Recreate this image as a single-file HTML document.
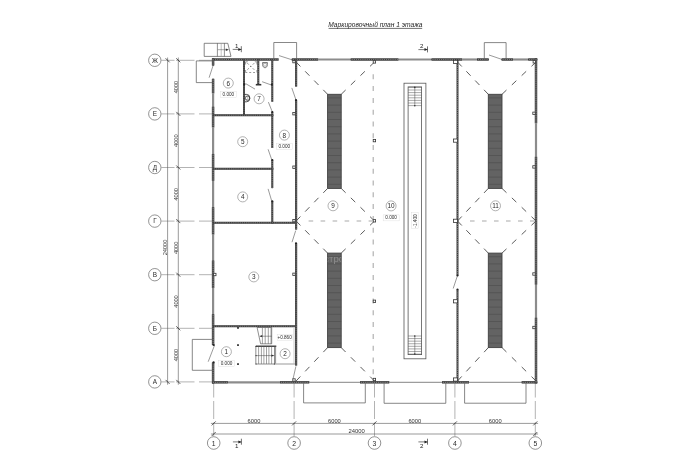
<!DOCTYPE html>
<html><head><meta charset="utf-8"><style>
html,body{margin:0;padding:0;background:#fff;}
svg{display:block;filter:grayscale(100%);}
text{font-family:"Liberation Sans",sans-serif;}
</style></head><body>
<svg width="700" height="474" viewBox="0 0 700 474">
<rect width="700" height="474" fill="#fff"/>
<g transform="matrix(1,0,0,1.00001,0,0)">
<text x="375.4" y="27.2" font-size="6.65" text-anchor="middle" fill="#1e1e1e" font-style="italic">Маркировочный план 1 этажа</text>
<line x1="328.6" y1="28.4" x2="422.2" y2="28.4" stroke="#333" stroke-width="0.7"/>
<circle cx="154.8" cy="60.3" r="6.2" stroke="#666" stroke-width="0.7" fill="white"/>
<text x="154.9" y="62.599999999999994" font-size="6.4" text-anchor="middle" fill="#2a2a2a" >Ж</text>
<line x1="213" y1="60.3" x2="160.8" y2="60.3" stroke="#aaa" stroke-width="0.9" stroke-dasharray="14 4.5 18.5 1.5 20"/>
<circle cx="154.8" cy="113.9" r="6.2" stroke="#666" stroke-width="0.7" fill="white"/>
<text x="154.9" y="116.2" font-size="6.4" text-anchor="middle" fill="#2a2a2a" >Е</text>
<line x1="213" y1="113.9" x2="160.8" y2="113.9" stroke="#aaa" stroke-width="0.9" stroke-dasharray="14 4.5 18.5 1.5 20"/>
<circle cx="154.8" cy="167.5" r="6.2" stroke="#666" stroke-width="0.7" fill="white"/>
<text x="154.9" y="169.8" font-size="6.4" text-anchor="middle" fill="#2a2a2a" >Д</text>
<line x1="213" y1="167.5" x2="160.8" y2="167.5" stroke="#aaa" stroke-width="0.9" stroke-dasharray="14 4.5 18.5 1.5 20"/>
<circle cx="154.8" cy="221.1" r="6.2" stroke="#666" stroke-width="0.7" fill="white"/>
<text x="154.9" y="223.4" font-size="6.4" text-anchor="middle" fill="#2a2a2a" >Г</text>
<line x1="213" y1="221.1" x2="160.8" y2="221.1" stroke="#aaa" stroke-width="0.9" stroke-dasharray="14 4.5 18.5 1.5 20"/>
<circle cx="154.8" cy="274.7" r="6.2" stroke="#666" stroke-width="0.7" fill="white"/>
<text x="154.9" y="277.0" font-size="6.4" text-anchor="middle" fill="#2a2a2a" >В</text>
<line x1="213" y1="274.7" x2="160.8" y2="274.7" stroke="#aaa" stroke-width="0.9" stroke-dasharray="14 4.5 18.5 1.5 20"/>
<circle cx="154.8" cy="328.3" r="6.2" stroke="#666" stroke-width="0.7" fill="white"/>
<text x="154.9" y="330.6" font-size="6.4" text-anchor="middle" fill="#2a2a2a" >Б</text>
<line x1="213" y1="328.3" x2="160.8" y2="328.3" stroke="#aaa" stroke-width="0.9" stroke-dasharray="14 4.5 18.5 1.5 20"/>
<circle cx="154.8" cy="381.9" r="6.2" stroke="#666" stroke-width="0.7" fill="white"/>
<text x="154.9" y="384.2" font-size="6.4" text-anchor="middle" fill="#2a2a2a" >А</text>
<line x1="213" y1="381.9" x2="160.8" y2="381.9" stroke="#aaa" stroke-width="0.9" stroke-dasharray="14 4.5 18.5 1.5 20"/>
<line x1="167.6" y1="57.5" x2="167.6" y2="384.7" stroke="#555" stroke-width="0.6"/>
<line x1="178.3" y1="57.5" x2="178.3" y2="384.7" stroke="#555" stroke-width="0.6"/>
<line x1="176.3" y1="58.3" x2="180.3" y2="62.3" stroke="#333" stroke-width="0.8"/>
<line x1="176.3" y1="111.9" x2="180.3" y2="115.9" stroke="#333" stroke-width="0.8"/>
<line x1="176.3" y1="165.5" x2="180.3" y2="169.5" stroke="#333" stroke-width="0.8"/>
<line x1="176.3" y1="219.1" x2="180.3" y2="223.1" stroke="#333" stroke-width="0.8"/>
<line x1="176.3" y1="272.7" x2="180.3" y2="276.7" stroke="#333" stroke-width="0.8"/>
<line x1="176.3" y1="326.3" x2="180.3" y2="330.3" stroke="#333" stroke-width="0.8"/>
<line x1="176.3" y1="379.9" x2="180.3" y2="383.9" stroke="#333" stroke-width="0.8"/>
<line x1="165.6" y1="58.3" x2="169.6" y2="62.3" stroke="#333" stroke-width="0.8"/>
<line x1="165.6" y1="379.9" x2="169.6" y2="383.9" stroke="#333" stroke-width="0.8"/>
<text x="0" y="0" font-size="5.6" text-anchor="middle" fill="#333" transform="translate(177.6,87.1) rotate(-90) scale(1,1.001)">4000</text>
<text x="0" y="0" font-size="5.6" text-anchor="middle" fill="#333" transform="translate(177.6,140.7) rotate(-90) scale(1,1.001)">4000</text>
<text x="0" y="0" font-size="5.6" text-anchor="middle" fill="#333" transform="translate(177.6,194.3) rotate(-90) scale(1,1.001)">4000</text>
<text x="0" y="0" font-size="5.6" text-anchor="middle" fill="#333" transform="translate(177.6,247.89999999999998) rotate(-90) scale(1,1.001)">4000</text>
<text x="0" y="0" font-size="5.6" text-anchor="middle" fill="#333" transform="translate(177.6,301.5) rotate(-90) scale(1,1.001)">4000</text>
<text x="0" y="0" font-size="5.6" text-anchor="middle" fill="#333" transform="translate(177.6,355.1) rotate(-90) scale(1,1.001)">4000</text>
<text x="0" y="0" font-size="5.65" text-anchor="middle" fill="#333" transform="translate(167.1,247.5) rotate(-90) scale(1,1.001)">24000</text>
<circle cx="213.7" cy="443.0" r="6.3" stroke="#666" stroke-width="0.7" fill="white"/>
<text x="213.7" y="445.6" font-size="6.8" text-anchor="middle" fill="#2a2a2a" >1</text>
<line x1="213.7" y1="383.5" x2="213.7" y2="436.7" stroke="#aaa" stroke-width="0.9" stroke-dasharray="14 3.5 18 3.6 20"/>
<circle cx="294.1" cy="443.0" r="6.3" stroke="#666" stroke-width="0.7" fill="white"/>
<text x="294.1" y="445.6" font-size="6.8" text-anchor="middle" fill="#2a2a2a" >2</text>
<line x1="294.1" y1="383.5" x2="294.1" y2="436.7" stroke="#aaa" stroke-width="0.9" stroke-dasharray="14 3.5 18 3.6 20"/>
<circle cx="374.5" cy="443.0" r="6.3" stroke="#666" stroke-width="0.7" fill="white"/>
<text x="374.5" y="445.6" font-size="6.8" text-anchor="middle" fill="#2a2a2a" >3</text>
<line x1="374.5" y1="383.5" x2="374.5" y2="436.7" stroke="#aaa" stroke-width="0.9" stroke-dasharray="14 3.5 18 3.6 20"/>
<circle cx="454.9" cy="443.0" r="6.3" stroke="#666" stroke-width="0.7" fill="white"/>
<text x="454.9" y="445.6" font-size="6.8" text-anchor="middle" fill="#2a2a2a" >4</text>
<line x1="454.9" y1="383.5" x2="454.9" y2="436.7" stroke="#aaa" stroke-width="0.9" stroke-dasharray="14 3.5 18 3.6 20"/>
<circle cx="535.3" cy="443.0" r="6.3" stroke="#666" stroke-width="0.7" fill="white"/>
<text x="535.3" y="445.6" font-size="6.8" text-anchor="middle" fill="#2a2a2a" >5</text>
<line x1="535.3" y1="383.5" x2="535.3" y2="436.7" stroke="#aaa" stroke-width="0.9" stroke-dasharray="14 3.5 18 3.6 20"/>
<line x1="210.9" y1="423.4" x2="538.1" y2="423.4" stroke="#555" stroke-width="0.6"/>
<line x1="210.9" y1="434.0" x2="538.1" y2="434.0" stroke="#555" stroke-width="0.6"/>
<line x1="211.7" y1="425.4" x2="215.7" y2="421.4" stroke="#333" stroke-width="0.8"/>
<line x1="292.1" y1="425.4" x2="296.1" y2="421.4" stroke="#333" stroke-width="0.8"/>
<line x1="372.5" y1="425.4" x2="376.5" y2="421.4" stroke="#333" stroke-width="0.8"/>
<line x1="452.9" y1="425.4" x2="456.9" y2="421.4" stroke="#333" stroke-width="0.8"/>
<line x1="533.3" y1="425.4" x2="537.3" y2="421.4" stroke="#333" stroke-width="0.8"/>
<line x1="211.7" y1="436.0" x2="215.7" y2="432.0" stroke="#333" stroke-width="0.8"/>
<line x1="533.3" y1="436.0" x2="537.3" y2="432.0" stroke="#333" stroke-width="0.8"/>
<text x="0" y="0" font-size="5.75" text-anchor="middle" fill="#333" transform="translate(254.0,422.75) scale(1,1.001)">6000</text>
<text x="0" y="0" font-size="5.75" text-anchor="middle" fill="#333" transform="translate(334.40000000000003,422.75) scale(1,1.001)">6000</text>
<text x="0" y="0" font-size="5.75" text-anchor="middle" fill="#333" transform="translate(414.8,422.75) scale(1,1.001)">6000</text>
<text x="0" y="0" font-size="5.75" text-anchor="middle" fill="#333" transform="translate(495.2,422.75) scale(1,1.001)">6000</text>
<text x="0" y="0" font-size="5.9" text-anchor="middle" fill="#333" transform="translate(356.7,433.3) scale(1,1.001)">24000</text>
<line x1="232.7" y1="49.4" x2="241.3" y2="49.4" stroke="#444" stroke-width="0.7"/>
<line x1="241.3" y1="46.199999999999996" x2="241.3" y2="52.199999999999996" stroke="#333" stroke-width="0.7"/>
<path d="M238.3,47.9 L241.3,49.4 L238.3,50.9 Z" fill="#222"/>
<text x="236.8" y="47.6" font-size="6.2" text-anchor="middle" fill="#222" >1</text>
<line x1="418.4" y1="49.6" x2="427.5" y2="49.6" stroke="#444" stroke-width="0.7"/>
<line x1="427.5" y1="46.4" x2="427.5" y2="52.4" stroke="#333" stroke-width="0.7"/>
<path d="M424.5,48.1 L427.5,49.6 L424.5,51.1 Z" fill="#222"/>
<text x="421.8" y="47.6" font-size="6.2" text-anchor="middle" fill="#222" >2</text>
<line x1="232.9" y1="441.9" x2="241.4" y2="441.9" stroke="#444" stroke-width="0.7"/>
<line x1="241.4" y1="438.7" x2="241.4" y2="444.7" stroke="#333" stroke-width="0.7"/>
<path d="M238.4,440.4 L241.4,441.9 L238.4,443.4 Z" fill="#222"/>
<text x="236.7" y="447.6" font-size="6.2" text-anchor="middle" fill="#222" >1</text>
<line x1="418.4" y1="441.9" x2="427.5" y2="441.9" stroke="#444" stroke-width="0.7"/>
<line x1="427.5" y1="438.7" x2="427.5" y2="444.7" stroke="#333" stroke-width="0.7"/>
<path d="M424.5,440.4 L427.5,441.9 L424.5,443.4 Z" fill="#222"/>
<text x="421.8" y="447.6" font-size="6.2" text-anchor="middle" fill="#222" >2</text>
<!--WALLS-->
<line x1="212" y1="59.5" x2="278.6" y2="59.5" stroke="#3a3a3a" stroke-width="2.5"/>
<line x1="212" y1="59.5" x2="278.6" y2="59.5" stroke="#777" stroke-width="1.4"/>
<line x1="212" y1="59.5" x2="278.6" y2="59.5" stroke="#222" stroke-width="0.9" stroke-dasharray="0.8 1.35"/>
<line x1="279" y1="55.6" x2="292.3" y2="59.9" stroke="#555" stroke-width="0.6"/>
<line x1="291.8" y1="59.5" x2="318.2" y2="59.5" stroke="#3a3a3a" stroke-width="2.5"/>
<line x1="291.8" y1="59.5" x2="318.2" y2="59.5" stroke="#777" stroke-width="1.4"/>
<line x1="291.8" y1="59.5" x2="318.2" y2="59.5" stroke="#222" stroke-width="0.9" stroke-dasharray="0.8 1.35"/>
<line x1="318.2" y1="59.5" x2="350.7" y2="59.5" stroke="#8c8c8c" stroke-width="2.2"/>
<line x1="350.7" y1="59.5" x2="398.5" y2="59.5" stroke="#3a3a3a" stroke-width="2.5"/>
<line x1="350.7" y1="59.5" x2="398.5" y2="59.5" stroke="#777" stroke-width="1.4"/>
<line x1="350.7" y1="59.5" x2="398.5" y2="59.5" stroke="#222" stroke-width="0.9" stroke-dasharray="0.8 1.35"/>
<line x1="398.5" y1="59.5" x2="431.5" y2="59.5" stroke="#8c8c8c" stroke-width="2.2"/>
<line x1="431.5" y1="59.5" x2="462.2" y2="59.5" stroke="#3a3a3a" stroke-width="2.5"/>
<line x1="431.5" y1="59.5" x2="462.2" y2="59.5" stroke="#777" stroke-width="1.4"/>
<line x1="431.5" y1="59.5" x2="462.2" y2="59.5" stroke="#222" stroke-width="0.9" stroke-dasharray="0.8 1.35"/>
<line x1="462.2" y1="59.5" x2="477" y2="59.5" stroke="#8c8c8c" stroke-width="2.2"/>
<line x1="477" y1="59.5" x2="488.7" y2="59.5" stroke="#3a3a3a" stroke-width="2.5"/>
<line x1="477" y1="59.5" x2="488.7" y2="59.5" stroke="#777" stroke-width="1.4"/>
<line x1="477" y1="59.5" x2="488.7" y2="59.5" stroke="#222" stroke-width="0.9" stroke-dasharray="0.8 1.35"/>
<line x1="489" y1="55" x2="501.6" y2="59.3" stroke="#555" stroke-width="0.6"/>
<line x1="501.6" y1="59.5" x2="513" y2="59.5" stroke="#3a3a3a" stroke-width="2.5"/>
<line x1="501.6" y1="59.5" x2="513" y2="59.5" stroke="#777" stroke-width="1.4"/>
<line x1="501.6" y1="59.5" x2="513" y2="59.5" stroke="#222" stroke-width="0.9" stroke-dasharray="0.8 1.35"/>
<line x1="513" y1="59.5" x2="528.2" y2="59.5" stroke="#8c8c8c" stroke-width="2.2"/>
<line x1="528.2" y1="59.5" x2="537.2" y2="59.5" stroke="#3a3a3a" stroke-width="2.5"/>
<line x1="528.2" y1="59.5" x2="537.2" y2="59.5" stroke="#777" stroke-width="1.4"/>
<line x1="528.2" y1="59.5" x2="537.2" y2="59.5" stroke="#222" stroke-width="0.9" stroke-dasharray="0.8 1.35"/>
<line x1="213.1" y1="58.3" x2="213.1" y2="65.5" stroke="#3a3a3a" stroke-width="2.5"/>
<line x1="213.1" y1="58.3" x2="213.1" y2="65.5" stroke="#777" stroke-width="1.4"/>
<line x1="213.1" y1="58.3" x2="213.1" y2="65.5" stroke="#222" stroke-width="0.9" stroke-dasharray="0.8 1.35"/>
<line x1="213.7" y1="63.7" x2="209.1" y2="77.7" stroke="#555" stroke-width="0.6"/>
<line x1="213.1" y1="78.8" x2="213.1" y2="93.4" stroke="#3a3a3a" stroke-width="2.5"/>
<line x1="213.1" y1="78.8" x2="213.1" y2="93.4" stroke="#777" stroke-width="1.4"/>
<line x1="213.1" y1="78.8" x2="213.1" y2="93.4" stroke="#222" stroke-width="0.9" stroke-dasharray="0.8 1.35"/>
<line x1="213.1" y1="93.4" x2="213.1" y2="106.7" stroke="#8c8c8c" stroke-width="2.2"/>
<line x1="213.1" y1="106.7" x2="213.1" y2="127.5" stroke="#3a3a3a" stroke-width="2.5"/>
<line x1="213.1" y1="106.7" x2="213.1" y2="127.5" stroke="#777" stroke-width="1.4"/>
<line x1="213.1" y1="106.7" x2="213.1" y2="127.5" stroke="#222" stroke-width="0.9" stroke-dasharray="0.8 1.35"/>
<line x1="213.1" y1="127.5" x2="213.1" y2="153.9" stroke="#8c8c8c" stroke-width="2.2"/>
<line x1="213.1" y1="153.9" x2="213.1" y2="180.9" stroke="#3a3a3a" stroke-width="2.5"/>
<line x1="213.1" y1="153.9" x2="213.1" y2="180.9" stroke="#777" stroke-width="1.4"/>
<line x1="213.1" y1="153.9" x2="213.1" y2="180.9" stroke="#222" stroke-width="0.9" stroke-dasharray="0.8 1.35"/>
<line x1="213.1" y1="180.9" x2="213.1" y2="207.2" stroke="#8c8c8c" stroke-width="2.2"/>
<line x1="213.1" y1="207.2" x2="213.1" y2="234.6" stroke="#3a3a3a" stroke-width="2.5"/>
<line x1="213.1" y1="207.2" x2="213.1" y2="234.6" stroke="#777" stroke-width="1.4"/>
<line x1="213.1" y1="207.2" x2="213.1" y2="234.6" stroke="#222" stroke-width="0.9" stroke-dasharray="0.8 1.35"/>
<line x1="213.1" y1="234.6" x2="213.1" y2="260.5" stroke="#8c8c8c" stroke-width="2.2"/>
<line x1="213.1" y1="260.5" x2="213.1" y2="288" stroke="#3a3a3a" stroke-width="2.5"/>
<line x1="213.1" y1="260.5" x2="213.1" y2="288" stroke="#777" stroke-width="1.4"/>
<line x1="213.1" y1="260.5" x2="213.1" y2="288" stroke="#222" stroke-width="0.9" stroke-dasharray="0.8 1.35"/>
<line x1="213.1" y1="288" x2="213.1" y2="314.2" stroke="#8c8c8c" stroke-width="2.2"/>
<line x1="213.1" y1="314.2" x2="213.1" y2="345" stroke="#3a3a3a" stroke-width="2.5"/>
<line x1="213.1" y1="314.2" x2="213.1" y2="345" stroke="#777" stroke-width="1.4"/>
<line x1="213.1" y1="314.2" x2="213.1" y2="345" stroke="#222" stroke-width="0.9" stroke-dasharray="0.8 1.35"/>
<line x1="214.6" y1="345.1" x2="208.2" y2="361.7" stroke="#555" stroke-width="0.6"/>
<line x1="213.1" y1="362.5" x2="213.1" y2="383.5" stroke="#3a3a3a" stroke-width="2.5"/>
<line x1="213.1" y1="362.5" x2="213.1" y2="383.5" stroke="#777" stroke-width="1.4"/>
<line x1="213.1" y1="362.5" x2="213.1" y2="383.5" stroke="#222" stroke-width="0.9" stroke-dasharray="0.8 1.35"/>
<line x1="212" y1="382.3" x2="227.9" y2="382.3" stroke="#3a3a3a" stroke-width="2.5"/>
<line x1="212" y1="382.3" x2="227.9" y2="382.3" stroke="#777" stroke-width="1.4"/>
<line x1="212" y1="382.3" x2="227.9" y2="382.3" stroke="#222" stroke-width="0.9" stroke-dasharray="0.8 1.35"/>
<line x1="227.9" y1="382.3" x2="280" y2="382.3" stroke="#8c8c8c" stroke-width="2.2"/>
<line x1="280" y1="382.3" x2="309.3" y2="382.3" stroke="#3a3a3a" stroke-width="2.5"/>
<line x1="280" y1="382.3" x2="309.3" y2="382.3" stroke="#777" stroke-width="1.4"/>
<line x1="280" y1="382.3" x2="309.3" y2="382.3" stroke="#222" stroke-width="0.9" stroke-dasharray="0.8 1.35"/>
<line x1="309.3" y1="382.3" x2="360" y2="382.3" stroke="#666" stroke-width="0.8"/>
<line x1="360" y1="382.3" x2="389.3" y2="382.3" stroke="#3a3a3a" stroke-width="2.5"/>
<line x1="360" y1="382.3" x2="389.3" y2="382.3" stroke="#777" stroke-width="1.4"/>
<line x1="360" y1="382.3" x2="389.3" y2="382.3" stroke="#222" stroke-width="0.9" stroke-dasharray="0.8 1.35"/>
<line x1="389.3" y1="382.3" x2="442" y2="382.3" stroke="#666" stroke-width="0.8"/>
<line x1="442" y1="382.3" x2="469" y2="382.3" stroke="#3a3a3a" stroke-width="2.5"/>
<line x1="442" y1="382.3" x2="469" y2="382.3" stroke="#777" stroke-width="1.4"/>
<line x1="442" y1="382.3" x2="469" y2="382.3" stroke="#222" stroke-width="0.9" stroke-dasharray="0.8 1.35"/>
<line x1="469" y1="382.3" x2="521.7" y2="382.3" stroke="#666" stroke-width="0.8"/>
<line x1="521.7" y1="382.3" x2="537.2" y2="382.3" stroke="#3a3a3a" stroke-width="2.5"/>
<line x1="521.7" y1="382.3" x2="537.2" y2="382.3" stroke="#777" stroke-width="1.4"/>
<line x1="521.7" y1="382.3" x2="537.2" y2="382.3" stroke="#222" stroke-width="0.9" stroke-dasharray="0.8 1.35"/>
<line x1="536" y1="58.3" x2="536" y2="123.3" stroke="#3a3a3a" stroke-width="2.5"/>
<line x1="536" y1="58.3" x2="536" y2="123.3" stroke="#777" stroke-width="1.4"/>
<line x1="536" y1="58.3" x2="536" y2="123.3" stroke="#222" stroke-width="0.9" stroke-dasharray="0.8 1.35"/>
<line x1="536" y1="123.3" x2="536" y2="156.8" stroke="#8c8c8c" stroke-width="2.2"/>
<line x1="536" y1="156.8" x2="536" y2="284.7" stroke="#3a3a3a" stroke-width="2.5"/>
<line x1="536" y1="156.8" x2="536" y2="284.7" stroke="#777" stroke-width="1.4"/>
<line x1="536" y1="156.8" x2="536" y2="284.7" stroke="#222" stroke-width="0.9" stroke-dasharray="0.8 1.35"/>
<line x1="536" y1="284.7" x2="536" y2="317.7" stroke="#8c8c8c" stroke-width="2.2"/>
<line x1="536" y1="317.7" x2="536" y2="383.5" stroke="#3a3a3a" stroke-width="2.5"/>
<line x1="536" y1="317.7" x2="536" y2="383.5" stroke="#777" stroke-width="1.4"/>
<line x1="536" y1="317.7" x2="536" y2="383.5" stroke="#222" stroke-width="0.9" stroke-dasharray="0.8 1.35"/>
<line x1="244" y1="59.5" x2="244" y2="115.5" stroke="#3a3a3a" stroke-width="2.0"/>
<line x1="244" y1="59.5" x2="244" y2="115.5" stroke="#777" stroke-width="0.8999999999999999"/>
<line x1="244" y1="59.5" x2="244" y2="115.5" stroke="#222" stroke-width="0.9" stroke-dasharray="0.8 1.35"/>
<line x1="213" y1="115.3" x2="273.3" y2="115.3" stroke="#3a3a3a" stroke-width="2.0"/>
<line x1="213" y1="115.3" x2="273.3" y2="115.3" stroke="#777" stroke-width="0.8999999999999999"/>
<line x1="213" y1="115.3" x2="273.3" y2="115.3" stroke="#222" stroke-width="0.9" stroke-dasharray="0.8 1.35"/>
<line x1="258.3" y1="59.5" x2="258.3" y2="84.7" stroke="#3a3a3a" stroke-width="2.0"/>
<line x1="258.3" y1="59.5" x2="258.3" y2="84.7" stroke="#777" stroke-width="0.8999999999999999"/>
<line x1="258.3" y1="59.5" x2="258.3" y2="84.7" stroke="#222" stroke-width="0.9" stroke-dasharray="0.8 1.35"/>
<line x1="255.8" y1="84.7" x2="261.3" y2="84.7" stroke="#333" stroke-width="1.6"/>
<line x1="272.3" y1="59.5" x2="272.3" y2="101.8" stroke="#3a3a3a" stroke-width="2.0"/>
<line x1="272.3" y1="59.5" x2="272.3" y2="101.8" stroke="#777" stroke-width="0.8999999999999999"/>
<line x1="272.3" y1="59.5" x2="272.3" y2="101.8" stroke="#222" stroke-width="0.9" stroke-dasharray="0.8 1.35"/>
<line x1="268.4" y1="102.1" x2="272.3" y2="111.9" stroke="#555" stroke-width="0.6"/>
<line x1="272.3" y1="111.9" x2="272.3" y2="148" stroke="#3a3a3a" stroke-width="2.0"/>
<line x1="272.3" y1="111.9" x2="272.3" y2="148" stroke="#777" stroke-width="0.8999999999999999"/>
<line x1="272.3" y1="111.9" x2="272.3" y2="148" stroke="#222" stroke-width="0.9" stroke-dasharray="0.8 1.35"/>
<line x1="268.1" y1="149.3" x2="271.8" y2="159.9" stroke="#555" stroke-width="0.6"/>
<line x1="272.3" y1="159.9" x2="272.3" y2="188.1" stroke="#3a3a3a" stroke-width="2.0"/>
<line x1="272.3" y1="159.9" x2="272.3" y2="188.1" stroke="#777" stroke-width="0.8999999999999999"/>
<line x1="272.3" y1="159.9" x2="272.3" y2="188.1" stroke="#222" stroke-width="0.9" stroke-dasharray="0.8 1.35"/>
<line x1="268.1" y1="188.9" x2="271.8" y2="201.3" stroke="#555" stroke-width="0.6"/>
<line x1="272.3" y1="201.3" x2="272.3" y2="223.4" stroke="#3a3a3a" stroke-width="2.0"/>
<line x1="272.3" y1="201.3" x2="272.3" y2="223.4" stroke="#777" stroke-width="0.8999999999999999"/>
<line x1="272.3" y1="201.3" x2="272.3" y2="223.4" stroke="#222" stroke-width="0.9" stroke-dasharray="0.8 1.35"/>
<line x1="213" y1="168.8" x2="273.3" y2="168.8" stroke="#3a3a3a" stroke-width="2.0"/>
<line x1="213" y1="168.8" x2="273.3" y2="168.8" stroke="#777" stroke-width="0.8999999999999999"/>
<line x1="213" y1="168.8" x2="273.3" y2="168.8" stroke="#222" stroke-width="0.9" stroke-dasharray="0.8 1.35"/>
<line x1="213" y1="222.7" x2="297" y2="222.7" stroke="#3a3a3a" stroke-width="2.0"/>
<line x1="213" y1="222.7" x2="297" y2="222.7" stroke="#777" stroke-width="0.8999999999999999"/>
<line x1="213" y1="222.7" x2="297" y2="222.7" stroke="#222" stroke-width="0.9" stroke-dasharray="0.8 1.35"/>
<line x1="245.6" y1="83.6" x2="255" y2="89.1" stroke="#555" stroke-width="0.6"/>
<line x1="262.1" y1="81.7" x2="270.8" y2="84.8" stroke="#555" stroke-width="0.6"/>
<line x1="296.1" y1="59.5" x2="296.1" y2="86.6" stroke="#3a3a3a" stroke-width="2.2"/>
<line x1="296.1" y1="59.5" x2="296.1" y2="86.6" stroke="#777" stroke-width="1.1"/>
<line x1="296.1" y1="59.5" x2="296.1" y2="86.6" stroke="#222" stroke-width="0.9" stroke-dasharray="0.8 1.35"/>
<line x1="291.8" y1="87.9" x2="296" y2="100.0" stroke="#555" stroke-width="0.6"/>
<line x1="296.1" y1="100.2" x2="296.1" y2="229.5" stroke="#3a3a3a" stroke-width="2.2"/>
<line x1="296.1" y1="100.2" x2="296.1" y2="229.5" stroke="#777" stroke-width="1.1"/>
<line x1="296.1" y1="100.2" x2="296.1" y2="229.5" stroke="#222" stroke-width="0.9" stroke-dasharray="0.8 1.35"/>
<line x1="295.7" y1="230.6" x2="292" y2="242.2" stroke="#555" stroke-width="0.6"/>
<line x1="296.1" y1="243.2" x2="296.1" y2="365.6" stroke="#3a3a3a" stroke-width="2.2"/>
<line x1="296.1" y1="243.2" x2="296.1" y2="365.6" stroke="#777" stroke-width="1.1"/>
<line x1="296.1" y1="243.2" x2="296.1" y2="365.6" stroke="#222" stroke-width="0.9" stroke-dasharray="0.8 1.35"/>
<line x1="295.9" y1="366.4" x2="293" y2="379.1" stroke="#555" stroke-width="0.6"/>
<line x1="213" y1="326.3" x2="296" y2="326.3" stroke="#3a3a3a" stroke-width="2.0"/>
<line x1="213" y1="326.3" x2="296" y2="326.3" stroke="#777" stroke-width="0.8999999999999999"/>
<line x1="213" y1="326.3" x2="296" y2="326.3" stroke="#222" stroke-width="0.9" stroke-dasharray="0.8 1.35"/>
<line x1="457.5" y1="59.5" x2="457.5" y2="275.7" stroke="#3a3a3a" stroke-width="2.0"/>
<line x1="457.5" y1="59.5" x2="457.5" y2="275.7" stroke="#777" stroke-width="0.8999999999999999"/>
<line x1="457.5" y1="59.5" x2="457.5" y2="275.7" stroke="#222" stroke-width="0.9" stroke-dasharray="0.8 1.35"/>
<line x1="457.4" y1="275.8" x2="453.2" y2="288.5" stroke="#555" stroke-width="0.6"/>
<line x1="457.5" y1="289.3" x2="457.5" y2="382.3" stroke="#3a3a3a" stroke-width="2.0"/>
<line x1="457.5" y1="289.3" x2="457.5" y2="382.3" stroke="#777" stroke-width="0.8999999999999999"/>
<line x1="457.5" y1="289.3" x2="457.5" y2="382.3" stroke="#222" stroke-width="0.9" stroke-dasharray="0.8 1.35"/>
<circle cx="457.5" cy="275.6" r="1.0" fill="#222"/>
<circle cx="457.5" cy="289.4" r="1.0" fill="#222"/>
<polyline points="204.2,56.4 204.2,43.3 227.8,43.3 231,56.4 204.2,56.4" stroke="#555" stroke-width="0.7" fill="none"/>
<line x1="217.4" y1="43.3" x2="217.4" y2="56.4" stroke="#444" stroke-width="0.6"/>
<line x1="221.2" y1="43.3" x2="221.2" y2="56.4" stroke="#999" stroke-width="0.6"/>
<line x1="224.4" y1="43.3" x2="224.4" y2="56.4" stroke="#444" stroke-width="0.6"/>
<line x1="217.7" y1="49.7" x2="227.5" y2="49.7" stroke="#555" stroke-width="0.5"/>
<path d="M225.8,48.4 L228.8,49.7 L225.8,51 Z" fill="#333"/>
<polyline points="212,60.9 196.3,60.9 196.3,82.6 213,82.6" stroke="#555" stroke-width="0.7" fill="none"/>
<polyline points="273.8,58.5 273.8,42.5 296.6,42.5 296.6,58.5" stroke="#555" stroke-width="0.7" fill="none"/>
<polyline points="484.3,58.5 484.3,42.6 506.1,42.6 506.1,58.5" stroke="#555" stroke-width="0.7" fill="none"/>
<polyline points="212,339.4 192.3,339.4 192.3,370.3 212,370.3" stroke="#555" stroke-width="0.7" fill="none"/>
<polyline points="303.6,383.3 303.6,402.9 365.3,402.9 365.3,383.3" stroke="#555" stroke-width="0.7" fill="none"/>
<polyline points="384.1,383.3 384.1,403.3 445.8,403.3 445.8,383.3" stroke="#555" stroke-width="0.7" fill="none"/>
<polyline points="464.6,383.3 464.6,403.2 526,403.2 526,383.3" stroke="#555" stroke-width="0.7" fill="none"/>
<rect x="327.6" y="94.3" width="13.599999999999966" height="94.10000000000001" fill="#636363" stroke="#404040" stroke-width="0.9"/>
<line x1="327.6" y1="97.89999999999999" x2="341.2" y2="97.89999999999999" stroke="#4c4c4c" stroke-width="0.6"/>
<line x1="327.6" y1="105.1" x2="341.2" y2="105.1" stroke="#4c4c4c" stroke-width="0.6"/>
<line x1="327.6" y1="112.3" x2="341.2" y2="112.3" stroke="#4c4c4c" stroke-width="0.6"/>
<line x1="327.6" y1="119.5" x2="341.2" y2="119.5" stroke="#4c4c4c" stroke-width="0.6"/>
<line x1="327.6" y1="126.7" x2="341.2" y2="126.7" stroke="#4c4c4c" stroke-width="0.6"/>
<line x1="327.6" y1="133.9" x2="341.2" y2="133.9" stroke="#4c4c4c" stroke-width="0.6"/>
<line x1="327.6" y1="141.1" x2="341.2" y2="141.1" stroke="#4c4c4c" stroke-width="0.6"/>
<line x1="327.6" y1="148.29999999999998" x2="341.2" y2="148.29999999999998" stroke="#4c4c4c" stroke-width="0.6"/>
<line x1="327.6" y1="155.49999999999997" x2="341.2" y2="155.49999999999997" stroke="#4c4c4c" stroke-width="0.6"/>
<line x1="327.6" y1="162.69999999999996" x2="341.2" y2="162.69999999999996" stroke="#4c4c4c" stroke-width="0.6"/>
<line x1="327.6" y1="169.89999999999995" x2="341.2" y2="169.89999999999995" stroke="#4c4c4c" stroke-width="0.6"/>
<line x1="327.6" y1="177.09999999999994" x2="341.2" y2="177.09999999999994" stroke="#4c4c4c" stroke-width="0.6"/>
<line x1="327.6" y1="184.29999999999993" x2="341.2" y2="184.29999999999993" stroke="#4c4c4c" stroke-width="0.6"/>
<rect x="327.6" y="253.1" width="13.599999999999966" height="94.50000000000003" fill="#636363" stroke="#404040" stroke-width="0.9"/>
<line x1="327.6" y1="256.7" x2="341.2" y2="256.7" stroke="#4c4c4c" stroke-width="0.6"/>
<line x1="327.6" y1="263.9" x2="341.2" y2="263.9" stroke="#4c4c4c" stroke-width="0.6"/>
<line x1="327.6" y1="271.09999999999997" x2="341.2" y2="271.09999999999997" stroke="#4c4c4c" stroke-width="0.6"/>
<line x1="327.6" y1="278.29999999999995" x2="341.2" y2="278.29999999999995" stroke="#4c4c4c" stroke-width="0.6"/>
<line x1="327.6" y1="285.49999999999994" x2="341.2" y2="285.49999999999994" stroke="#4c4c4c" stroke-width="0.6"/>
<line x1="327.6" y1="292.69999999999993" x2="341.2" y2="292.69999999999993" stroke="#4c4c4c" stroke-width="0.6"/>
<line x1="327.6" y1="299.8999999999999" x2="341.2" y2="299.8999999999999" stroke="#4c4c4c" stroke-width="0.6"/>
<line x1="327.6" y1="307.0999999999999" x2="341.2" y2="307.0999999999999" stroke="#4c4c4c" stroke-width="0.6"/>
<line x1="327.6" y1="314.2999999999999" x2="341.2" y2="314.2999999999999" stroke="#4c4c4c" stroke-width="0.6"/>
<line x1="327.6" y1="321.4999999999999" x2="341.2" y2="321.4999999999999" stroke="#4c4c4c" stroke-width="0.6"/>
<line x1="327.6" y1="328.6999999999999" x2="341.2" y2="328.6999999999999" stroke="#4c4c4c" stroke-width="0.6"/>
<line x1="327.6" y1="335.89999999999986" x2="341.2" y2="335.89999999999986" stroke="#4c4c4c" stroke-width="0.6"/>
<line x1="327.6" y1="343.09999999999985" x2="341.2" y2="343.09999999999985" stroke="#4c4c4c" stroke-width="0.6"/>
<line x1="296.1" y1="62" x2="327.6" y2="94.3" stroke="#4a4a4a" stroke-width="0.9" stroke-dasharray="6.2 6.77"/>
<line x1="374.5" y1="62" x2="341.2" y2="94.3" stroke="#4a4a4a" stroke-width="0.9" stroke-dasharray="6.2 7.20"/>
<line x1="296.1" y1="221" x2="327.6" y2="188.4" stroke="#4a4a4a" stroke-width="0.9" stroke-dasharray="6.2 6.84"/>
<line x1="374.5" y1="221" x2="341.2" y2="188.4" stroke="#4a4a4a" stroke-width="0.9" stroke-dasharray="6.2 7.27"/>
<line x1="296.1" y1="221" x2="327.6" y2="253.1" stroke="#4a4a4a" stroke-width="0.9" stroke-dasharray="6.2 6.72"/>
<line x1="374.5" y1="221" x2="341.2" y2="253.1" stroke="#4a4a4a" stroke-width="0.9" stroke-dasharray="6.2 7.15"/>
<line x1="296.1" y1="381" x2="327.6" y2="347.6" stroke="#4a4a4a" stroke-width="0.9" stroke-dasharray="6.2 7.04"/>
<line x1="374.5" y1="381" x2="341.2" y2="347.6" stroke="#4a4a4a" stroke-width="0.9" stroke-dasharray="6.2 7.45"/>
<line x1="308.6" y1="221" x2="372.5" y2="221" stroke="#aaa" stroke-width="1.1" stroke-dasharray="4.6 7.4"/>
<clipPath id="wm"><rect x="327.6" y="253.1" width="13.6" height="20"/></clipPath>
<text x="324.2" y="262.0" font-size="9.6" fill="#8e8e8e" clip-path="url(#wm)">стро</text>
<rect x="488.3" y="94.3" width="13.699999999999989" height="94.10000000000001" fill="#636363" stroke="#404040" stroke-width="0.9"/>
<line x1="488.3" y1="97.89999999999999" x2="502.0" y2="97.89999999999999" stroke="#4c4c4c" stroke-width="0.6"/>
<line x1="488.3" y1="105.1" x2="502.0" y2="105.1" stroke="#4c4c4c" stroke-width="0.6"/>
<line x1="488.3" y1="112.3" x2="502.0" y2="112.3" stroke="#4c4c4c" stroke-width="0.6"/>
<line x1="488.3" y1="119.5" x2="502.0" y2="119.5" stroke="#4c4c4c" stroke-width="0.6"/>
<line x1="488.3" y1="126.7" x2="502.0" y2="126.7" stroke="#4c4c4c" stroke-width="0.6"/>
<line x1="488.3" y1="133.9" x2="502.0" y2="133.9" stroke="#4c4c4c" stroke-width="0.6"/>
<line x1="488.3" y1="141.1" x2="502.0" y2="141.1" stroke="#4c4c4c" stroke-width="0.6"/>
<line x1="488.3" y1="148.29999999999998" x2="502.0" y2="148.29999999999998" stroke="#4c4c4c" stroke-width="0.6"/>
<line x1="488.3" y1="155.49999999999997" x2="502.0" y2="155.49999999999997" stroke="#4c4c4c" stroke-width="0.6"/>
<line x1="488.3" y1="162.69999999999996" x2="502.0" y2="162.69999999999996" stroke="#4c4c4c" stroke-width="0.6"/>
<line x1="488.3" y1="169.89999999999995" x2="502.0" y2="169.89999999999995" stroke="#4c4c4c" stroke-width="0.6"/>
<line x1="488.3" y1="177.09999999999994" x2="502.0" y2="177.09999999999994" stroke="#4c4c4c" stroke-width="0.6"/>
<line x1="488.3" y1="184.29999999999993" x2="502.0" y2="184.29999999999993" stroke="#4c4c4c" stroke-width="0.6"/>
<rect x="488.3" y="253.1" width="13.699999999999989" height="94.50000000000003" fill="#636363" stroke="#404040" stroke-width="0.9"/>
<line x1="488.3" y1="256.7" x2="502.0" y2="256.7" stroke="#4c4c4c" stroke-width="0.6"/>
<line x1="488.3" y1="263.9" x2="502.0" y2="263.9" stroke="#4c4c4c" stroke-width="0.6"/>
<line x1="488.3" y1="271.09999999999997" x2="502.0" y2="271.09999999999997" stroke="#4c4c4c" stroke-width="0.6"/>
<line x1="488.3" y1="278.29999999999995" x2="502.0" y2="278.29999999999995" stroke="#4c4c4c" stroke-width="0.6"/>
<line x1="488.3" y1="285.49999999999994" x2="502.0" y2="285.49999999999994" stroke="#4c4c4c" stroke-width="0.6"/>
<line x1="488.3" y1="292.69999999999993" x2="502.0" y2="292.69999999999993" stroke="#4c4c4c" stroke-width="0.6"/>
<line x1="488.3" y1="299.8999999999999" x2="502.0" y2="299.8999999999999" stroke="#4c4c4c" stroke-width="0.6"/>
<line x1="488.3" y1="307.0999999999999" x2="502.0" y2="307.0999999999999" stroke="#4c4c4c" stroke-width="0.6"/>
<line x1="488.3" y1="314.2999999999999" x2="502.0" y2="314.2999999999999" stroke="#4c4c4c" stroke-width="0.6"/>
<line x1="488.3" y1="321.4999999999999" x2="502.0" y2="321.4999999999999" stroke="#4c4c4c" stroke-width="0.6"/>
<line x1="488.3" y1="328.6999999999999" x2="502.0" y2="328.6999999999999" stroke="#4c4c4c" stroke-width="0.6"/>
<line x1="488.3" y1="335.89999999999986" x2="502.0" y2="335.89999999999986" stroke="#4c4c4c" stroke-width="0.6"/>
<line x1="488.3" y1="343.09999999999985" x2="502.0" y2="343.09999999999985" stroke="#4c4c4c" stroke-width="0.6"/>
<line x1="457.5" y1="62" x2="488.3" y2="94.3" stroke="#4a4a4a" stroke-width="0.9" stroke-dasharray="6.2 6.61"/>
<line x1="536" y1="62" x2="502.0" y2="94.3" stroke="#4a4a4a" stroke-width="0.9" stroke-dasharray="6.2 7.37"/>
<line x1="457.5" y1="221" x2="488.3" y2="188.4" stroke="#4a4a4a" stroke-width="0.9" stroke-dasharray="6.2 6.68"/>
<line x1="536" y1="221" x2="502.0" y2="188.4" stroke="#4a4a4a" stroke-width="0.9" stroke-dasharray="6.2 7.43"/>
<line x1="457.5" y1="221" x2="488.3" y2="253.1" stroke="#4a4a4a" stroke-width="0.9" stroke-dasharray="6.2 6.56"/>
<line x1="536" y1="221" x2="502.0" y2="253.1" stroke="#4a4a4a" stroke-width="0.9" stroke-dasharray="6.2 7.32"/>
<line x1="457.5" y1="381" x2="488.3" y2="347.6" stroke="#4a4a4a" stroke-width="0.9" stroke-dasharray="6.2 6.88"/>
<line x1="536" y1="381" x2="502.0" y2="347.6" stroke="#4a4a4a" stroke-width="0.9" stroke-dasharray="6.2 7.62"/>
<line x1="470.0" y1="221" x2="534" y2="221" stroke="#aaa" stroke-width="1.1" stroke-dasharray="4.6 7.4"/>
<line x1="373.2" y1="74.3" x2="373.2" y2="378" stroke="#aaa" stroke-width="1.1" stroke-dasharray="5 6.8"/>
<rect x="404.0" y="83.2" width="21.9" height="275.6" stroke="#555" stroke-width="0.8" fill="none"/>
<rect x="408.1" y="86.9" width="13.5" height="267.7" stroke="#555" stroke-width="0.8" fill="none"/>
<line x1="408.1" y1="87.4" x2="421.6" y2="87.4" stroke="#555" stroke-width="0.5"/>
<line x1="408.1" y1="90.0" x2="421.6" y2="90.0" stroke="#555" stroke-width="0.5"/>
<line x1="408.1" y1="92.60000000000001" x2="421.6" y2="92.60000000000001" stroke="#555" stroke-width="0.5"/>
<line x1="408.1" y1="95.2" x2="421.6" y2="95.2" stroke="#555" stroke-width="0.5"/>
<line x1="408.1" y1="97.80000000000001" x2="421.6" y2="97.80000000000001" stroke="#555" stroke-width="0.5"/>
<line x1="408.1" y1="100.4" x2="421.6" y2="100.4" stroke="#555" stroke-width="0.5"/>
<line x1="408.1" y1="103.0" x2="421.6" y2="103.0" stroke="#555" stroke-width="0.5"/>
<line x1="408.1" y1="105.60000000000001" x2="421.6" y2="105.60000000000001" stroke="#555" stroke-width="0.5"/>
<line x1="408.1" y1="336.0" x2="421.6" y2="336.0" stroke="#555" stroke-width="0.5"/>
<line x1="408.1" y1="338.58" x2="421.6" y2="338.58" stroke="#555" stroke-width="0.5"/>
<line x1="408.1" y1="341.16" x2="421.6" y2="341.16" stroke="#555" stroke-width="0.5"/>
<line x1="408.1" y1="343.74" x2="421.6" y2="343.74" stroke="#555" stroke-width="0.5"/>
<line x1="408.1" y1="346.32" x2="421.6" y2="346.32" stroke="#555" stroke-width="0.5"/>
<line x1="408.1" y1="348.9" x2="421.6" y2="348.9" stroke="#555" stroke-width="0.5"/>
<line x1="408.1" y1="351.48" x2="421.6" y2="351.48" stroke="#555" stroke-width="0.5"/>
<line x1="408.1" y1="354.06" x2="421.6" y2="354.06" stroke="#555" stroke-width="0.5"/>
<line x1="414.8" y1="87.4" x2="414.8" y2="105.7" stroke="#444" stroke-width="0.5"/>
<line x1="414.8" y1="336" x2="414.8" y2="354.0" stroke="#444" stroke-width="0.5"/>
<circle cx="414.8" cy="87.4" r="0.8" fill="#333"/>
<circle cx="414.8" cy="105.7" r="0.8" fill="#333"/>
<circle cx="414.8" cy="336" r="0.8" fill="#333"/>
<circle cx="414.8" cy="354.0" r="0.8" fill="#333"/>
<rect x="411.5" y="212.7" width="6.6" height="15.8" stroke="#ccc" stroke-width="0.3" fill="white"/>
<text x="0" y="0" font-size="4.7" text-anchor="middle" fill="#333" transform="translate(416.9,221.0) rotate(-90) scale(1,1.001)">-1.400</text>
<rect x="292.8" y="112.5" width="2.4" height="2.4" fill="white" stroke="#333" stroke-width="0.8"/>
<rect x="292.8" y="166.0" width="2.4" height="2.4" fill="white" stroke="#333" stroke-width="0.8"/>
<rect x="292.8" y="219.4" width="2.4" height="2.4" fill="white" stroke="#333" stroke-width="0.8"/>
<rect x="292.8" y="273.1" width="2.4" height="2.4" fill="white" stroke="#333" stroke-width="0.8"/>
<rect x="373.2" y="60.699999999999996" width="2.4" height="2.4" fill="white" stroke="#333" stroke-width="0.8"/>
<rect x="373.2" y="139.4" width="2.4" height="2.4" fill="white" stroke="#333" stroke-width="0.8"/>
<rect x="373.2" y="219.60000000000002" width="2.4" height="2.4" fill="white" stroke="#333" stroke-width="0.8"/>
<rect x="373.2" y="300.1" width="2.4" height="2.4" fill="white" stroke="#333" stroke-width="0.8"/>
<rect x="373.2" y="378.3" width="2.4" height="2.4" fill="white" stroke="#333" stroke-width="0.8"/>
<rect x="453.4" y="60.3" width="4.2" height="3.2" fill="white" stroke="#333" stroke-width="0.8"/>
<rect x="453.4" y="139.0" width="4.2" height="3.2" fill="white" stroke="#333" stroke-width="0.8"/>
<rect x="453.4" y="219.20000000000002" width="4.2" height="3.2" fill="white" stroke="#333" stroke-width="0.8"/>
<rect x="453.4" y="299.7" width="4.2" height="3.2" fill="white" stroke="#333" stroke-width="0.8"/>
<rect x="453.4" y="377.9" width="4.2" height="3.2" fill="white" stroke="#333" stroke-width="0.8"/>
<rect x="532.8" y="112.1" width="2.4" height="2.4" fill="white" stroke="#333" stroke-width="0.8"/>
<rect x="532.8" y="165.70000000000002" width="2.4" height="2.4" fill="white" stroke="#333" stroke-width="0.8"/>
<rect x="532.8" y="272.8" width="2.4" height="2.4" fill="white" stroke="#333" stroke-width="0.8"/>
<rect x="532.8" y="326.3" width="2.4" height="2.4" fill="white" stroke="#333" stroke-width="0.8"/>
<rect x="292.8" y="378.8" width="2.4" height="2.4" fill="white" stroke="#333" stroke-width="0.8"/>
<rect x="292.8" y="60.4" width="2.4" height="2.4" fill="white" stroke="#333" stroke-width="0.8"/>
<rect x="533.0999999999999" y="60.599999999999994" width="2.4" height="2.4" fill="white" stroke="#333" stroke-width="0.8"/>
<rect x="213.60000000000002" y="273.3" width="2.4" height="2.4" fill="white" stroke="#333" stroke-width="0.8"/>
<circle cx="228.3" cy="83.1" r="5.0" stroke="#888" stroke-width="0.65" fill="white"/>
<text x="228.3" y="85.5" font-size="6.4" text-anchor="middle" fill="#2a2a2a" >6</text>
<rect x="220.4" y="91.80000000000001" width="16" height="6.0" stroke="#ccc" stroke-width="0.3" fill="white"/>
<text x="0" y="0" font-size="4.65" text-anchor="middle" fill="#2a2a2a" transform="translate(228.4,96.15) scale(1,1.001)">0.000</text>
<circle cx="259.1" cy="98.8" r="5.0" stroke="#888" stroke-width="0.65" fill="white"/>
<text x="259.1" y="101.2" font-size="6.4" text-anchor="middle" fill="#2a2a2a" >7</text>
<circle cx="247.6" cy="98.2" r="2.2" stroke="#444" stroke-width="0.8" fill="white"/>
<circle cx="284.4" cy="135.10000000000002" r="5.0" stroke="#888" stroke-width="0.65" fill="white"/>
<text x="284.4" y="137.5" font-size="6.4" text-anchor="middle" fill="#2a2a2a" >8</text>
<rect x="276.3" y="143.8" width="16" height="6.0" stroke="#ccc" stroke-width="0.3" fill="white"/>
<text x="0" y="0" font-size="4.65" text-anchor="middle" fill="#2a2a2a" transform="translate(284.3,148.15) scale(1,1.001)">0.000</text>
<circle cx="242.7" cy="141.70000000000002" r="5.0" stroke="#888" stroke-width="0.65" fill="white"/>
<text x="242.7" y="144.1" font-size="6.4" text-anchor="middle" fill="#2a2a2a" >5</text>
<circle cx="242.7" cy="196.9" r="5.0" stroke="#888" stroke-width="0.65" fill="white"/>
<text x="242.7" y="199.29999999999998" font-size="6.4" text-anchor="middle" fill="#2a2a2a" >4</text>
<circle cx="253.8" cy="276.90000000000003" r="5.0" stroke="#888" stroke-width="0.65" fill="white"/>
<text x="253.8" y="279.3" font-size="6.4" text-anchor="middle" fill="#2a2a2a" >3</text>
<circle cx="226.4" cy="351.7" r="5.0" stroke="#888" stroke-width="0.65" fill="white"/>
<text x="226.4" y="354.09999999999997" font-size="6.4" text-anchor="middle" fill="#2a2a2a" >1</text>
<rect x="218.5" y="360.7" width="16" height="6.0" stroke="#ccc" stroke-width="0.3" fill="white"/>
<text x="0" y="0" font-size="4.65" text-anchor="middle" fill="#2a2a2a" transform="translate(226.5,365.05) scale(1,1.001)">0.000</text>
<circle cx="285.1" cy="353.7" r="5.0" stroke="#888" stroke-width="0.65" fill="white"/>
<text x="285.1" y="356.09999999999997" font-size="6.4" text-anchor="middle" fill="#2a2a2a" >2</text>
<rect x="277.1" y="334.2" width="15" height="6.0" stroke="#ccc" stroke-width="0.3" fill="white"/>
<text x="0" y="0" font-size="4.65" text-anchor="middle" fill="#2a2a2a" transform="translate(284.6,338.55) scale(1,1.001)">+0.860</text>
<circle cx="333.0" cy="205.8" r="5.0" stroke="#888" stroke-width="0.65" fill="white"/>
<text x="333.0" y="208.2" font-size="6.4" text-anchor="middle" fill="#2a2a2a" >9</text>
<circle cx="391.1" cy="205.9" r="5.0" stroke="#888" stroke-width="0.65" fill="white"/>
<text x="391.1" y="208.29999999999998" font-size="6.4" text-anchor="middle" fill="#2a2a2a" >10</text>
<rect x="383.1" y="214.9" width="16" height="6.0" stroke="#ccc" stroke-width="0.3" fill="white"/>
<text x="0" y="0" font-size="4.65" text-anchor="middle" fill="#2a2a2a" transform="translate(391.1,219.25) scale(1,1.001)">0.000</text>
<circle cx="495.5" cy="205.8" r="5.0" stroke="#888" stroke-width="0.65" fill="white"/>
<text x="495.5" y="208.2" font-size="6.4" text-anchor="middle" fill="#2a2a2a" >11</text>
<g stroke="#555" stroke-width="0.6" fill="none">
<path d="M245.6,64.5 V61.8 H247.8 M254.8,61.8 H256.9 V64.5 M245.6,70 V72.5 H247.3 M249.2,72.5 H251.2 M253.1,72.5 H255 M256.9,70 V72.5"/>
<path d="M247.4,63.2 L248.8,64.6 M252.8,68.3 L254.2,69.7 M254.2,63.2 L252.8,64.6 M248.8,68.3 L247.4,69.7" stroke-width="0.7"/>
</g>
<circle cx="250.8" cy="66.4" r="0.6" fill="#444"/>
<path d="M262.6,62.5 H267.4 V64.5 C267.4,68.8 262.6,68.8 262.6,64.5 Z" fill="none" stroke="#444" stroke-width="0.7"/>
<path d="M263.6,63.4 H266.4 V64.6 C266.4,66.9 263.6,66.9 263.6,64.6 Z" fill="none" stroke="#666" stroke-width="0.5"/>
<path d="M244.8,94.4 H246.4 A3.4,3.7 0 0 1 246.4,101.8 H244.8" fill="none" stroke="#333" stroke-width="0.9"/>
<path d="M245,96.2 H246.2 A1.8,1.8 0 0 1 246.2,99.8 H245" fill="none" stroke="#666" stroke-width="0.5"/>
<circle cx="244.3" cy="84.4" r="1.1" fill="#222"/>
<circle cx="271.8" cy="84.6" r="1.1" fill="#222"/>
<circle cx="272.3" cy="112" r="1.1" fill="#222"/>
<circle cx="272.3" cy="160" r="1.1" fill="#222"/>
<circle cx="272.3" cy="201.4" r="1.1" fill="#222"/>
<circle cx="213.6" cy="345" r="1.1" fill="#222"/>
<circle cx="213.6" cy="362.4" r="1.1" fill="#222"/>
<circle cx="296" cy="100.2" r="1.1" fill="#222"/>
<circle cx="296" cy="243.3" r="1.1" fill="#222"/>
<rect x="237.1" y="327.0" width="1.8" height="1.8" fill="#333"/>
<rect x="237.1" y="344.20000000000005" width="1.8" height="1.8" fill="#333"/>
<rect x="237.1" y="363.20000000000005" width="1.8" height="1.8" fill="#333"/>
<polyline points="271.7,327.5 257.1,327.5 260.6,343.8 271.7,343.8 271.7,327.5" stroke="#444" stroke-width="0.6" fill="none"/>
<line x1="262.4" y1="327.7" x2="262.4" y2="343.8" stroke="#555" stroke-width="0.55"/>
<line x1="265.2" y1="327.7" x2="265.2" y2="343.8" stroke="#555" stroke-width="0.55"/>
<line x1="268.3" y1="327.7" x2="268.3" y2="343.8" stroke="#555" stroke-width="0.55"/>
<line x1="271.0" y1="327.7" x2="271.0" y2="343.8" stroke="#555" stroke-width="0.55"/>
<line x1="259.8" y1="336.2" x2="271.7" y2="336.2" stroke="#444" stroke-width="0.5"/>
<path d="M259.6,336.2 L262.2,335.1 L262.2,337.3 Z" fill="#333"/>
<line x1="255.9" y1="346.2" x2="276.3" y2="346.2" stroke="#444" stroke-width="1.4"/>
<rect x="255.9" y="346.3" width="18.5" height="17.7" stroke="#444" stroke-width="0.6" fill="none"/>
<line x1="258.6" y1="346.3" x2="258.6" y2="363.9" stroke="#555" stroke-width="0.55"/>
<line x1="261.4" y1="346.3" x2="261.4" y2="363.9" stroke="#555" stroke-width="0.55"/>
<line x1="263.9" y1="346.3" x2="263.9" y2="363.9" stroke="#555" stroke-width="0.55"/>
<line x1="266.5" y1="346.3" x2="266.5" y2="363.9" stroke="#555" stroke-width="0.55"/>
<line x1="268.9" y1="346.3" x2="268.9" y2="363.9" stroke="#555" stroke-width="0.55"/>
<line x1="271.6" y1="346.3" x2="271.6" y2="363.9" stroke="#555" stroke-width="0.55"/>
<line x1="256" y1="355.6" x2="274.4" y2="355.6" stroke="#444" stroke-width="0.5"/>
<path d="M274.0,355.6 L271.4,354.5 L271.4,356.7 Z" fill="#333"/>
<circle cx="256" cy="346.3" r="0.6" fill="#333"/>
<circle cx="256" cy="355.6" r="0.6" fill="#333"/>
<circle cx="256" cy="364" r="0.6" fill="#333"/>
<circle cx="274.4" cy="364" r="0.6" fill="#333"/>
<line x1="275.6" y1="346.3" x2="275.6" y2="363.5" stroke="#444" stroke-width="0.6"/>
<line x1="274.4" y1="364" x2="296" y2="364" stroke="#555" stroke-width="0.6"/>
<line x1="294" y1="328" x2="294" y2="363.5" stroke="#999" stroke-width="0.5"/>
</g>
</svg></body></html>
